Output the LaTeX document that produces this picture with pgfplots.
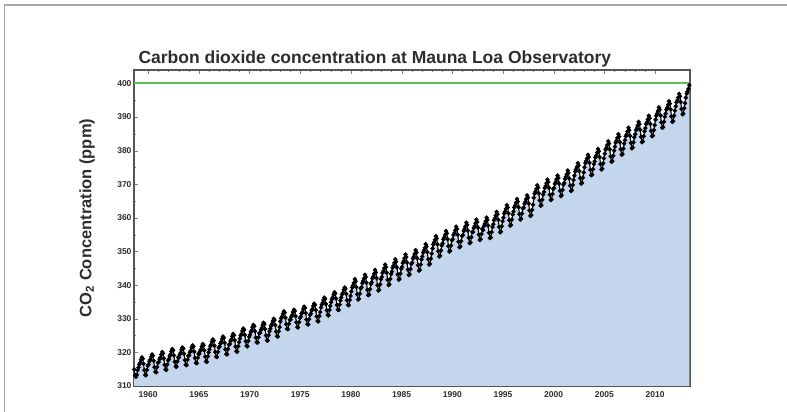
\documentclass[border=0pt]{standalone}
\usepackage{fontspec}
\setmainfont{Liberation Sans}
\usepackage{pgfplots}
\pgfplotsset{compat=1.18}
\usepackage{pgfplotstable}
\definecolor{co2fill}{RGB}{196,214,236}
\definecolor{limitgreen}{RGB}{90,190,90}
\definecolor{axisgray}{RGB}{85,85,85}
\definecolor{framegray}{RGB}{165,165,165}
\definecolor{labelgray}{RGB}{45,45,45}

% monthly means, ppm
\pgfplotstableread[row sep=\\]{
x y\\
1958.21 315.7\\ 1958.29 317.5\\ 1958.38 317.5\\ 1958.46 317.1\\ 1958.54 315.9\\ 1958.62 314.9\\ 1958.71 313.2\\ 1958.79 312.7\\ 1958.88 313.3\\ 1958.96 314.7\\
1959.04 315.5\\ 1959.12 316.4\\ 1959.21 316.9\\ 1959.29 317.8\\ 1959.38 318.5\\ 1959.46 318.1\\ 1959.54 316.6\\ 1959.62 314.7\\ 1959.71 313.3\\ 1959.79 313.2\\ 1959.88 314.8\\ 1959.96 316.0\\
1960.04 316.4\\ 1960.12 317.3\\ 1960.21 317.8\\ 1960.29 318.7\\ 1960.38 319.4\\ 1960.46 319.0\\ 1960.54 317.5\\ 1960.62 315.6\\ 1960.71 314.2\\ 1960.79 314.1\\ 1960.88 315.7\\ 1960.96 316.9\\
1961.04 317.1\\ 1961.12 318.0\\ 1961.21 318.5\\ 1961.29 319.4\\ 1961.38 320.1\\ 1961.46 319.7\\ 1961.54 318.2\\ 1961.62 316.3\\ 1961.71 314.9\\ 1961.79 314.8\\ 1961.88 316.4\\ 1961.96 317.6\\
1962.04 318.0\\ 1962.12 318.9\\ 1962.21 319.4\\ 1962.29 320.3\\ 1962.38 321.0\\ 1962.46 320.6\\ 1962.54 319.1\\ 1962.62 317.2\\ 1962.71 315.8\\ 1962.79 315.7\\ 1962.88 317.3\\ 1962.96 318.5\\
1963.04 318.5\\ 1963.12 319.4\\ 1963.21 319.9\\ 1963.29 320.8\\ 1963.38 321.5\\ 1963.46 321.1\\ 1963.54 319.6\\ 1963.62 317.7\\ 1963.71 316.3\\ 1963.79 316.2\\ 1963.88 317.8\\ 1963.96 319.0\\
1964.04 319.1\\ 1964.12 320.0\\ 1964.21 320.5\\ 1964.29 321.4\\ 1964.38 322.1\\ 1964.46 321.7\\ 1964.54 320.2\\ 1964.62 318.3\\ 1964.71 316.9\\ 1964.79 316.8\\ 1964.88 318.4\\ 1964.96 319.6\\
1965.04 319.5\\ 1965.12 320.4\\ 1965.21 320.9\\ 1965.29 321.8\\ 1965.38 322.5\\ 1965.46 322.1\\ 1965.54 320.6\\ 1965.62 318.7\\ 1965.71 317.3\\ 1965.79 317.2\\ 1965.88 318.8\\ 1965.96 320.0\\
1966.04 320.9\\ 1966.12 321.8\\ 1966.21 322.3\\ 1966.29 323.2\\ 1966.38 323.9\\ 1966.46 323.5\\ 1966.54 322.0\\ 1966.62 320.1\\ 1966.71 318.7\\ 1966.79 318.6\\ 1966.88 320.2\\ 1966.96 321.4\\
1967.04 321.7\\ 1967.12 322.6\\ 1967.21 323.1\\ 1967.29 324.0\\ 1967.38 324.7\\ 1967.46 324.3\\ 1967.54 322.8\\ 1967.62 320.9\\ 1967.71 319.5\\ 1967.79 319.4\\ 1967.88 321.0\\ 1967.96 322.2\\
1968.04 322.5\\ 1968.12 323.4\\ 1968.21 323.9\\ 1968.29 324.8\\ 1968.38 325.5\\ 1968.46 325.1\\ 1968.54 323.6\\ 1968.62 321.7\\ 1968.71 320.3\\ 1968.79 320.2\\ 1968.88 321.8\\ 1968.96 323.0\\
1969.04 324.1\\ 1969.12 325.0\\ 1969.21 325.5\\ 1969.29 326.4\\ 1969.38 327.1\\ 1969.46 326.7\\ 1969.54 325.2\\ 1969.62 323.3\\ 1969.71 321.9\\ 1969.79 321.8\\ 1969.88 323.4\\ 1969.96 324.6\\
1970.04 325.2\\ 1970.12 326.1\\ 1970.21 326.6\\ 1970.29 327.5\\ 1970.38 328.2\\ 1970.46 327.8\\ 1970.54 326.3\\ 1970.62 324.4\\ 1970.71 323.0\\ 1970.79 322.9\\ 1970.88 324.5\\ 1970.96 325.7\\
1971.04 325.8\\ 1971.12 326.7\\ 1971.21 327.2\\ 1971.29 328.1\\ 1971.38 328.8\\ 1971.46 328.4\\ 1971.54 326.9\\ 1971.62 325.0\\ 1971.71 323.6\\ 1971.79 323.5\\ 1971.88 325.1\\ 1971.96 326.3\\
1972.04 327.0\\ 1972.12 327.9\\ 1972.21 328.4\\ 1972.29 329.3\\ 1972.38 330.0\\ 1972.46 329.6\\ 1972.54 328.1\\ 1972.62 326.2\\ 1972.71 324.8\\ 1972.79 324.7\\ 1972.88 326.3\\ 1972.96 327.5\\
1973.04 329.2\\ 1973.12 330.1\\ 1973.21 330.6\\ 1973.29 331.5\\ 1973.38 332.2\\ 1973.46 331.8\\ 1973.54 330.3\\ 1973.62 328.4\\ 1973.71 327.0\\ 1973.79 326.9\\ 1973.88 328.5\\ 1973.96 329.7\\
1974.04 329.7\\ 1974.12 330.6\\ 1974.21 331.1\\ 1974.29 332.0\\ 1974.38 332.7\\ 1974.46 332.3\\ 1974.54 330.8\\ 1974.62 328.9\\ 1974.71 327.5\\ 1974.79 327.4\\ 1974.88 329.0\\ 1974.96 330.2\\
1975.04 330.6\\ 1975.12 331.5\\ 1975.21 332.0\\ 1975.29 332.9\\ 1975.38 333.6\\ 1975.46 333.2\\ 1975.54 331.7\\ 1975.62 329.8\\ 1975.71 328.4\\ 1975.79 328.3\\ 1975.88 329.9\\ 1975.96 331.1\\
1976.04 331.5\\ 1976.12 332.4\\ 1976.21 332.9\\ 1976.29 333.8\\ 1976.38 334.5\\ 1976.46 334.1\\ 1976.54 332.6\\ 1976.62 330.7\\ 1976.71 329.3\\ 1976.79 329.2\\ 1976.88 330.8\\ 1976.96 332.0\\
1977.04 333.3\\ 1977.12 334.2\\ 1977.21 334.7\\ 1977.29 335.6\\ 1977.38 336.3\\ 1977.46 335.9\\ 1977.54 334.4\\ 1977.62 332.5\\ 1977.71 331.1\\ 1977.79 331.0\\ 1977.88 332.6\\ 1977.96 333.8\\
1978.04 334.9\\ 1978.12 335.8\\ 1978.21 336.3\\ 1978.29 337.2\\ 1978.38 337.9\\ 1978.46 337.5\\ 1978.54 336.0\\ 1978.62 334.1\\ 1978.71 332.7\\ 1978.79 332.6\\ 1978.88 334.2\\ 1978.96 335.4\\
1979.04 336.3\\ 1979.12 337.2\\ 1979.21 337.7\\ 1979.29 338.6\\ 1979.38 339.3\\ 1979.46 338.9\\ 1979.54 337.4\\ 1979.62 335.5\\ 1979.71 334.1\\ 1979.79 334.0\\ 1979.88 335.6\\ 1979.96 336.8\\
1980.04 338.1\\ 1980.12 339.3\\ 1980.21 339.9\\ 1980.29 340.7\\ 1980.38 341.8\\ 1980.46 341.1\\ 1980.54 339.4\\ 1980.62 337.3\\ 1980.71 335.7\\ 1980.79 335.9\\ 1980.88 337.5\\ 1980.96 339.0\\
1981.04 339.4\\ 1981.12 340.6\\ 1981.21 341.2\\ 1981.29 342.0\\ 1981.38 343.1\\ 1981.46 342.4\\ 1981.54 340.7\\ 1981.62 338.6\\ 1981.71 337.0\\ 1981.79 337.2\\ 1981.88 338.8\\ 1981.96 340.3\\
1982.04 340.8\\ 1982.12 342.0\\ 1982.21 342.6\\ 1982.29 343.4\\ 1982.38 344.5\\ 1982.46 343.8\\ 1982.54 342.1\\ 1982.62 340.0\\ 1982.71 338.4\\ 1982.79 338.6\\ 1982.88 340.2\\ 1982.96 341.7\\
1983.04 342.4\\ 1983.12 343.6\\ 1983.21 344.2\\ 1983.29 345.0\\ 1983.38 346.1\\ 1983.46 345.4\\ 1983.54 343.7\\ 1983.62 341.6\\ 1983.71 340.0\\ 1983.79 340.2\\ 1983.88 341.8\\ 1983.96 343.3\\
1984.04 344.0\\ 1984.12 345.2\\ 1984.21 345.8\\ 1984.29 346.6\\ 1984.38 347.7\\ 1984.46 347.0\\ 1984.54 345.3\\ 1984.62 343.2\\ 1984.71 341.6\\ 1984.79 341.8\\ 1984.88 343.4\\ 1984.96 344.9\\
1985.04 345.4\\ 1985.12 346.6\\ 1985.21 347.2\\ 1985.29 348.0\\ 1985.38 349.1\\ 1985.46 348.4\\ 1985.54 346.7\\ 1985.62 344.6\\ 1985.71 343.0\\ 1985.79 343.2\\ 1985.88 344.8\\ 1985.96 346.3\\
1986.04 346.7\\ 1986.12 347.9\\ 1986.21 348.5\\ 1986.29 349.3\\ 1986.38 350.4\\ 1986.46 349.7\\ 1986.54 348.0\\ 1986.62 345.9\\ 1986.71 344.3\\ 1986.79 344.5\\ 1986.88 346.1\\ 1986.96 347.6\\
1987.04 348.5\\ 1987.12 349.7\\ 1987.21 350.3\\ 1987.29 351.1\\ 1987.38 352.2\\ 1987.46 351.5\\ 1987.54 349.8\\ 1987.62 347.7\\ 1987.71 346.1\\ 1987.79 346.3\\ 1987.88 347.9\\ 1987.96 349.4\\
1988.04 350.9\\ 1988.12 352.1\\ 1988.21 352.7\\ 1988.29 353.5\\ 1988.38 354.6\\ 1988.46 353.9\\ 1988.54 352.2\\ 1988.62 350.1\\ 1988.71 348.5\\ 1988.79 348.7\\ 1988.88 350.3\\ 1988.96 351.8\\
1989.04 352.4\\ 1989.12 353.6\\ 1989.21 354.2\\ 1989.29 355.0\\ 1989.38 356.1\\ 1989.46 355.4\\ 1989.54 353.7\\ 1989.62 351.6\\ 1989.71 350.0\\ 1989.79 350.2\\ 1989.88 351.8\\ 1989.96 353.3\\
1990.04 353.7\\ 1990.12 354.9\\ 1990.21 355.5\\ 1990.29 356.3\\ 1990.38 357.4\\ 1990.46 356.7\\ 1990.54 355.0\\ 1990.62 352.9\\ 1990.71 351.3\\ 1990.79 351.5\\ 1990.88 353.1\\ 1990.96 354.6\\
1991.04 354.9\\ 1991.12 356.1\\ 1991.21 356.7\\ 1991.29 357.5\\ 1991.38 358.6\\ 1991.46 357.9\\ 1991.54 356.2\\ 1991.62 354.1\\ 1991.71 352.5\\ 1991.79 352.7\\ 1991.88 354.3\\ 1991.96 355.8\\
1992.04 355.8\\ 1992.12 357.0\\ 1992.21 357.6\\ 1992.29 358.4\\ 1992.38 359.5\\ 1992.46 358.8\\ 1992.54 357.1\\ 1992.62 355.0\\ 1992.71 353.4\\ 1992.79 353.6\\ 1992.88 355.2\\ 1992.96 356.7\\
1993.04 356.4\\ 1993.12 357.6\\ 1993.21 358.2\\ 1993.29 359.0\\ 1993.38 360.1\\ 1993.46 359.4\\ 1993.54 357.7\\ 1993.62 355.6\\ 1993.71 354.0\\ 1993.79 354.2\\ 1993.88 355.8\\ 1993.96 357.3\\
1994.04 358.1\\ 1994.12 359.3\\ 1994.21 359.9\\ 1994.29 360.7\\ 1994.38 361.8\\ 1994.46 361.1\\ 1994.54 359.4\\ 1994.62 357.3\\ 1994.71 355.7\\ 1994.79 355.9\\ 1994.88 357.5\\ 1994.96 359.0\\
1995.04 360.1\\ 1995.12 361.3\\ 1995.21 361.9\\ 1995.29 362.7\\ 1995.38 363.8\\ 1995.46 363.1\\ 1995.54 361.4\\ 1995.62 359.3\\ 1995.71 357.7\\ 1995.79 357.9\\ 1995.88 359.5\\ 1995.96 361.0\\
1996.04 361.9\\ 1996.12 363.1\\ 1996.21 363.7\\ 1996.29 364.5\\ 1996.38 365.6\\ 1996.46 364.9\\ 1996.54 363.2\\ 1996.62 361.1\\ 1996.71 359.5\\ 1996.79 359.7\\ 1996.88 361.3\\ 1996.96 362.8\\
1997.04 363.0\\ 1997.12 364.2\\ 1997.21 364.8\\ 1997.29 365.6\\ 1997.38 366.7\\ 1997.46 366.0\\ 1997.54 364.3\\ 1997.62 362.2\\ 1997.71 360.6\\ 1997.79 360.8\\ 1997.88 362.4\\ 1997.96 363.9\\
1998.04 366.0\\ 1998.12 367.2\\ 1998.21 367.8\\ 1998.29 368.6\\ 1998.38 369.7\\ 1998.46 369.0\\ 1998.54 367.3\\ 1998.62 365.2\\ 1998.71 363.6\\ 1998.79 363.8\\ 1998.88 365.4\\ 1998.96 366.9\\
1999.04 367.7\\ 1999.12 368.9\\ 1999.21 369.5\\ 1999.29 370.3\\ 1999.38 371.4\\ 1999.46 370.7\\ 1999.54 369.0\\ 1999.62 366.9\\ 1999.71 365.3\\ 1999.79 365.5\\ 1999.88 367.1\\ 1999.96 368.6\\
2000.04 368.9\\ 2000.12 370.1\\ 2000.21 370.7\\ 2000.29 371.5\\ 2000.38 372.6\\ 2000.46 371.9\\ 2000.54 370.2\\ 2000.62 368.1\\ 2000.71 366.5\\ 2000.79 366.7\\ 2000.88 368.3\\ 2000.96 369.8\\
2001.04 370.4\\ 2001.12 371.6\\ 2001.21 372.2\\ 2001.29 373.0\\ 2001.38 374.1\\ 2001.46 373.4\\ 2001.54 371.7\\ 2001.62 369.6\\ 2001.71 368.0\\ 2001.79 368.2\\ 2001.88 369.8\\ 2001.96 371.3\\
2002.04 372.6\\ 2002.12 373.8\\ 2002.21 374.4\\ 2002.29 375.2\\ 2002.38 376.3\\ 2002.46 375.6\\ 2002.54 373.9\\ 2002.62 371.8\\ 2002.71 370.2\\ 2002.79 370.4\\ 2002.88 372.0\\ 2002.96 373.5\\
2003.04 375.1\\ 2003.12 376.3\\ 2003.21 376.9\\ 2003.29 377.7\\ 2003.38 378.8\\ 2003.46 378.1\\ 2003.54 376.4\\ 2003.62 374.3\\ 2003.71 372.7\\ 2003.79 372.9\\ 2003.88 374.5\\ 2003.96 376.0\\
2004.04 376.8\\ 2004.12 378.0\\ 2004.21 378.6\\ 2004.29 379.4\\ 2004.38 380.5\\ 2004.46 379.8\\ 2004.54 378.1\\ 2004.62 376.0\\ 2004.71 374.4\\ 2004.79 374.6\\ 2004.88 376.2\\ 2004.96 377.7\\
2005.04 379.1\\ 2005.12 380.3\\ 2005.21 380.9\\ 2005.29 381.7\\ 2005.38 382.8\\ 2005.46 382.1\\ 2005.54 380.4\\ 2005.62 378.3\\ 2005.71 376.7\\ 2005.79 376.9\\ 2005.88 378.5\\ 2005.96 380.0\\
2006.04 381.2\\ 2006.12 382.4\\ 2006.21 383.0\\ 2006.29 383.8\\ 2006.38 384.9\\ 2006.46 384.2\\ 2006.54 382.5\\ 2006.62 380.4\\ 2006.71 378.8\\ 2006.79 379.0\\ 2006.88 380.6\\ 2006.96 382.1\\
2007.04 383.1\\ 2007.12 384.3\\ 2007.21 384.9\\ 2007.29 385.7\\ 2007.38 386.8\\ 2007.46 386.1\\ 2007.54 384.4\\ 2007.62 382.3\\ 2007.71 380.7\\ 2007.79 380.9\\ 2007.88 382.5\\ 2007.96 384.0\\
2008.04 384.9\\ 2008.12 386.1\\ 2008.21 386.7\\ 2008.29 387.5\\ 2008.38 388.6\\ 2008.46 387.9\\ 2008.54 386.2\\ 2008.62 384.1\\ 2008.71 382.5\\ 2008.79 382.7\\ 2008.88 384.3\\ 2008.96 385.8\\
2009.04 386.7\\ 2009.12 387.9\\ 2009.21 388.5\\ 2009.29 389.3\\ 2009.38 390.4\\ 2009.46 389.7\\ 2009.54 388.0\\ 2009.62 385.9\\ 2009.71 384.3\\ 2009.79 384.5\\ 2009.88 386.1\\ 2009.96 387.6\\
2010.04 389.2\\ 2010.12 390.4\\ 2010.21 391.0\\ 2010.29 391.8\\ 2010.38 392.9\\ 2010.46 392.2\\ 2010.54 390.5\\ 2010.62 388.4\\ 2010.71 386.8\\ 2010.79 387.0\\ 2010.88 388.6\\ 2010.96 390.1\\
2011.04 391.0\\ 2011.12 392.2\\ 2011.21 392.8\\ 2011.29 393.6\\ 2011.38 394.7\\ 2011.46 394.0\\ 2011.54 392.3\\ 2011.62 390.2\\ 2011.71 388.6\\ 2011.79 388.8\\ 2011.88 390.4\\ 2011.96 391.9\\
2012.04 393.2\\ 2012.12 394.4\\ 2012.21 395.0\\ 2012.29 395.8\\ 2012.38 396.9\\ 2012.46 396.2\\ 2012.54 394.5\\ 2012.62 392.4\\ 2012.71 390.8\\ 2012.79 391.0\\ 2012.88 392.6\\ 2012.96 394.1\\
2013.04 395.8\\ 2013.12 397.0\\ 2013.21 397.6\\ 2013.29 398.4\\ 2013.38 399.5\\
}\keeling

\begin{document}
\begin{tikzpicture}
\useasboundingbox (0pt,0pt) rectangle (787pt,412pt);
\draw[framegray, line width=1.5pt] (4.5pt,0pt) -- (4.5pt,407pt) -- (787pt,407pt);
\begin{axis}[
    at={(134pt,26pt)}, anchor=south west,
    scale only axis, width=556pt, height=316pt,
    xmin=1958.6, xmax=2013.45,
    ymin=310, ymax=404,
    xtick={1960,1965,...,2010},
    ytick={310,320,...,400},
    minor x tick num=4,
    minor y tick num=1,
    tick pos=both, tick align=inside,
    major tick length=4pt, minor tick length=2pt,
    axis line style={axisgray, line width=1.8pt},
    /pgf/number format/assume math mode=true,
    xticklabel style={/pgf/number format/1000 sep={}},
    ticklabel style={font=\bfseries\fontsize{8.5}{9}\selectfont, text=labelgray},
    xticklabel shift=2pt, yticklabel shift=-1pt,
]
\addplot[draw=none, fill=co2fill, forget plot] table[x=x, y=y] {\keeling} \closedcycle;
\addplot[draw=black, line width=1.1pt, mark=*, mark size=1.6pt, mark options={fill=black}, forget plot] table[x=x, y=y] {\keeling};
\addplot[draw=limitgreen, line width=2pt, mark=none, forget plot] coordinates {(1958,400) (2014,400)};
\end{axis}
\node[anchor=base west, font=\bfseries\fontsize{17.5}{18}\selectfont, text=labelgray] at (135pt,348pt) {Carbon dioxide concentration at Mauna Loa Observatory};
\node[rotate=90, font=\bfseries\fontsize{16.5}{17}\selectfont, text=labelgray] at (87pt,194pt) {CO\textsubscript{2} Concentration (ppm)};
\end{tikzpicture}
\end{document}
